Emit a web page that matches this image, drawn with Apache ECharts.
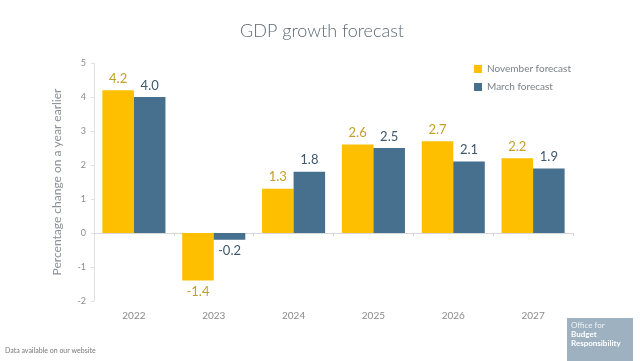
<!DOCTYPE html>
<html><head><meta charset="utf-8">
<script src="https://cdn.jsdelivr.net/npm/echarts@6/dist/echarts.min.js"></script>
<style>html,body{margin:0;padding:0;background:#fff}#c{width:644px;height:361px}</style>
</head><body><div id="c"></div>
<script>
var categories = ['2022','2023','2024','2025','2026','2027'];
var novemberForecast = [4.2, -1.4, 1.3, 2.6, 2.7, 2.2];
var marchForecast = [4.0, -0.2, 1.8, 2.5, 2.1, 1.9];
var yTicks = [-2, -1, 0, 1, 2, 3, 4, 5];

var font = 'Lato, "Open Sans", sans-serif';
var chart = echarts.init(document.getElementById('c'));
function lbl(color){
  return {show:true, fontFamily:font, fontSize:13, color:color,
    position:'top', distance:5,
    formatter:function(p){return p.value.toFixed(1);}};
}
var baseGraphic = [
  {type:'text', left:5, top:347, style:{text:'Data available on our website', fontFamily:font, fontSize:7, fill:'#777'}},
  {type:'rect', shape:{x:567, y:318, width:66, height:43}, style:{fill:'#9db1c1'}},
  {type:'text', left:571, top:321, style:{text:'Office for', fontFamily:font, fontSize:8, fill:'#eef2f5'}},
  {type:'text', left:571, top:330, style:{text:'Budget', fontFamily:font, fontSize:8, fontWeight:'bold', fill:'#ffffff'}},
  {type:'text', left:571, top:339, style:{text:'Responsibility', fontFamily:font, fontSize:8, fontWeight:'bold', fill:'#ffffff'}}
];
chart.setOption({
  animation:false,
  title:{text:'GDP growth forecast', left:'center', top:17,
    textStyle:{fontFamily:font, fontSize:18, fontWeight:300, color:'#5d6a72'}},
  legend:{orient:'vertical', left:469, top:59, itemWidth:8, itemHeight:8, itemGap:8,
    icon:'rect',
    textStyle:{fontFamily:font, fontSize:10, color:'#7a8288'},
    data:['November forecast','March forecast']},
  grid:{left:94, right:71, top:63, bottom:60},
  xAxis:{type:'category', data:categories,
    axisLine:{onZero:true, lineStyle:{color:'#d8d8d8'}},
    axisTick:{show:true, length:3, lineStyle:{color:'#d8d8d8'}},
    axisLabel:{show:false}},
  yAxis:{type:'value', min:yTicks[0], max:yTicks[yTicks.length-1], interval:1,
    name:'Percentage change on a year earlier', nameLocation:'middle', nameGap:31,
    nameTextStyle:{fontFamily:font, fontSize:12, color:'#8a9096'},
    axisLine:{show:true, lineStyle:{color:'#e2e2e2'}},
    axisTick:{show:true, length:3, lineStyle:{color:'#e2e2e2'}},
    splitLine:{show:false},
    axisLabel:{fontFamily:font, fontSize:9, color:'#8a8a8a', margin:8}},
  series:[
    {name:'November forecast', type:'bar', data:novemberForecast.map(function(v){
        return {value:v, label:{position:v<0?'bottom':'top'}};}),
      barGap:'0%', barCategoryGap:'21%',
      itemStyle:{color:'#FDBF00'}, label:lbl('#c29f2a')},
    {name:'March forecast', type:'bar', data:marchForecast.map(function(v){
        return {value:v, label:{position:v<0?'bottom':'top'}};}),
      itemStyle:{color:'#46708E'}, label:lbl('#3f586c')}
  ],
  graphic: baseGraphic
});
var extra = categories.map(function(c){
  var p = chart.convertToPixel({xAxisIndex:0}, c);
  return {type:'text', x:p, y:311, style:{text:c, fontFamily:font, fontSize:10, fill:'#8a8a8a', align:'center'}};
});
chart.setOption({graphic: baseGraphic.concat(extra)});
</script></body></html>
